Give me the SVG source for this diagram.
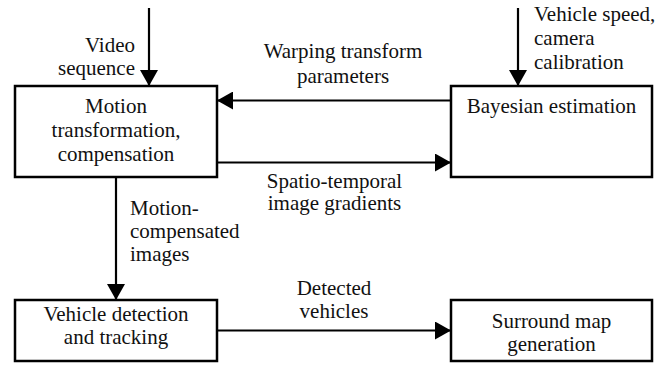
<svg xmlns="http://www.w3.org/2000/svg" width="670" height="366" viewBox="0 0 670 366">
  <style>
    .box { fill: #fff; stroke: #000; stroke-width: 2.5; }
    .wire { fill: none; stroke: #000; stroke-width: 2.2; marker-end: url(#head); }
    text { font-size: 21px; fill: #111; }
    .c { text-anchor: middle; }
    .r { text-anchor: end; }
  </style>
  <defs>
    <marker id="head" markerUnits="userSpaceOnUse" markerWidth="16" markerHeight="18" refX="16" refY="9" orient="auto">
      <path d="M0,0 L16,9 L0,18 Z" fill="#000"/>
    </marker>
  </defs>

  <rect width="670" height="366" fill="#fff"/>

  <g font-family="'Liberation Serif', 'DejaVu Serif', serif">
  <!-- connectors -->
  <g id="connectors">
    <line class="wire" x1="149" y1="8" x2="149" y2="86"/>
    <line class="wire" x1="518" y1="8" x2="518" y2="86"/>
    <line class="wire" x1="451" y1="100.5" x2="217" y2="100.5"/>
    <line class="wire" x1="217" y1="162.5" x2="451" y2="162.5"/>
    <line class="wire" x1="116" y1="177" x2="116" y2="300"/>
    <line class="wire" x1="217" y1="330.5" x2="451" y2="330.5"/>

    <text class="r" x="135" y="52">Video</text>
    <text class="r" x="135" y="75">sequence</text>
    <text x="534" y="21">Vehicle speed,</text>
    <text x="534" y="45">camera</text>
    <text x="534" y="69">calibration</text>
    <text class="c" x="343" y="58">Warping transform</text>
    <text class="c" x="343" y="83">parameters</text>
    <text class="c" x="334.5" y="188">Spatio-temporal</text>
    <text class="c" x="334.5" y="210">image gradients</text>
    <text x="130" y="215">Motion-</text>
    <text x="130" y="238">compensated</text>
    <text x="130" y="261">images</text>
    <text class="c" x="334" y="295">Detected</text>
    <text class="c" x="334" y="318">vehicles</text>
  </g>

  <!-- nodes -->
  <g id="motion">
    <rect class="box" x="15" y="86" width="202" height="91"/>
    <text class="c" x="116" y="113">Motion</text>
    <text class="c" x="116" y="137">transformation,</text>
    <text class="c" x="116" y="161">compensation</text>
  </g>
  <g id="bayesian">
    <rect class="box" x="451" y="86" width="201" height="91"/>
    <text class="c" x="551.5" y="113">Bayesian estimation</text>
  </g>
  <g id="detection">
    <rect class="box" x="15" y="300" width="202" height="61"/>
    <text class="c" x="116" y="321">Vehicle detection</text>
    <text class="c" x="116" y="344">and tracking</text>
  </g>
  <g id="surround">
    <rect class="box" x="451" y="300" width="201" height="61"/>
    <text class="c" x="551.5" y="328">Surround map</text>
    <text class="c" x="551.5" y="351">generation</text>
  </g>
  </g>
</svg>
